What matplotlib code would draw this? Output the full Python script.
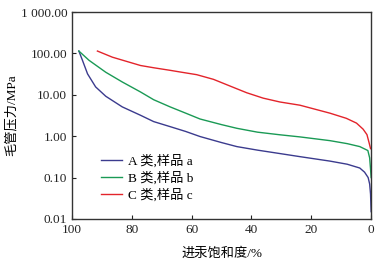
import matplotlib
matplotlib.use("Agg")
import matplotlib.pyplot as plt

plt.rcParams['font.family'] = ['Liberation Serif', 'Noto Sans CJK SC']
plt.rcParams['axes.unicode_minus'] = False

# Saturation (%) and capillary pressure (MPa)
sat_a = [97.7, 96.5, 94.8, 92.1, 88.7, 83.2, 77.1, 72.7, 67.2, 62.0, 57.2, 50.0, 44.9, 38.0, 30.5, 23.8, 13.8, 8.0, 3.8, 2.2, 1.0, 0.5, 0.2, 0.0]
pc_a  = [114, 68, 32, 15.5, 9.2, 5.1, 3.2, 2.25, 1.7, 1.3, 0.98, 0.7, 0.56, 0.46, 0.38, 0.32, 0.25, 0.21, 0.17, 0.135, 0.1, 0.07, 0.04, 0.015]

sat_b = [97.7, 94.3, 88.7, 83.2, 77.1, 72.7, 67.2, 62.0, 57.2, 50.0, 44.9, 38.0, 30.5, 23.8, 13.8, 8.0, 3.8, 1.1, 0.5, 0.2, 0.0]
pc_b  = [114, 68, 35, 20.4, 11.7, 7.6, 5.1, 3.6, 2.6, 1.9, 1.55, 1.25, 1.08, 0.96, 0.78, 0.66, 0.56, 0.45, 0.3, 0.16, 0.1]

sat_c = [91.5, 86.5, 77.1, 72.7, 67.2, 63.8, 58.3, 52.7, 47.2, 41.6, 36.1, 30.5, 23.8, 13.8, 8.3, 4.9, 2.7, 1.4, 0.7, 0.2]
pc_c  = [114, 81, 51, 45, 39, 35.5, 30.6, 23.6, 16.3, 11.2, 8.3, 6.7, 5.6, 3.6, 2.7, 2.07, 1.48, 1.09, 0.7, 0.5]

labels = ["A 类,样品 a", "B 类,样品 b", "C 类,样品 c"]
colors = ["#3b3b8e", "#1a9a55", "#e3242b"]

yticks = [0.01, 0.1, 1, 10, 100, 1000]
ytick_labels = ["0.01", "0.10", "1.00", "10.00", "100.00", "1 000.00"]
xticks = [100, 80, 60, 40, 20, 0]

fig = plt.figure(figsize=(3.85, 2.67), dpi=100)
ax = fig.add_axes([0.187, 0.180, 0.777, 0.775])

for s, p, lab, c in zip([sat_a, sat_b, sat_c], [pc_a, pc_b, pc_c], labels, colors):
    ax.plot(s, p, color=c, lw=1.0, label=lab)

ax.set_yscale('log')
ax.set_ylim(0.01, 1000)
ax.set_xlim(100, 0)
ax.yaxis.set_minor_locator(matplotlib.ticker.NullLocator())
ax.set_yticks(yticks)
ax.set_yticklabels(ytick_labels)
ax.set_xticks(xticks)
ax.set_xticklabels([str(x) for x in xticks])
ax.tick_params(direction='in', length=3, width=0.8, labelsize=9.5, colors='#222222')
for sp in ax.spines.values():
    sp.set_linewidth(1.0)
    sp.set_color('#333333')

ax.set_xlabel("进汞饱和度/%", fontsize=9.5, labelpad=8)
ax.set_ylabel("毛管压力/MPa", fontsize=9.5, labelpad=2)

ax.legend(loc='lower left', bbox_to_anchor=(0.08, 0.06), frameon=False,
          fontsize=9.5, handlelength=1.6, handletextpad=0.4, labelspacing=0.25,
          borderaxespad=0)

fig.savefig("out.png", dpi=100)
